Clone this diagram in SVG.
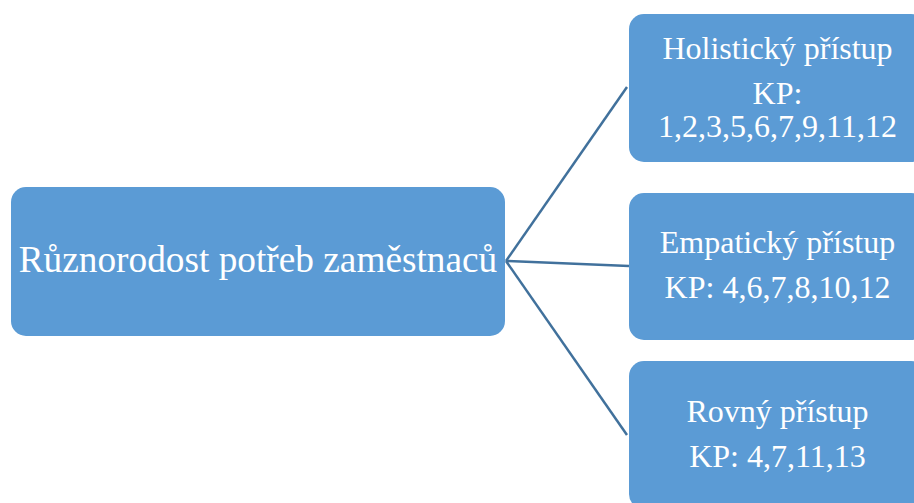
<svg xmlns="http://www.w3.org/2000/svg" width="914" height="503" viewBox="0 0 914 503">
<style>
.box{fill:#5B9BD5;}
.t{font-family:"Liberation Serif","Times New Roman",serif;fill:#FFFFFF;text-anchor:middle;}
.c{stroke:#41719C;stroke-width:2.5;fill:none;}
</style>
<rect width="914" height="503" fill="#FFFFFF"/>
<g id="connectors">
<line class="c" x1="506" y1="261" x2="627" y2="87"/>
<line class="c" x1="506" y1="261" x2="629" y2="266"/>
<line class="c" x1="506" y1="261" x2="627" y2="435"/>
</g>
<g id="root">
<rect class="box" x="11" y="187" width="494" height="149" rx="15"/>
<text class="t" x="258" y="272" font-size="37.3">Různorodost potřeb zaměstnaců</text>
</g>
<g id="holisticky">
<rect class="box" x="629" y="14" width="297" height="148" rx="15"/>
<text class="t" x="777.5" y="59" font-size="32">Holistický přístup</text>
<text class="t" x="777.5" y="104" font-size="32">KP:</text>
<text class="t" x="777.5" y="137" font-size="32">1,2,3,5,6,7,9,11,12</text>
</g>
<g id="empaticky">
<rect class="box" x="629" y="193" width="297" height="147" rx="15"/>
<text class="t" x="777.5" y="252.5" font-size="32">Empatický přístup</text>
<text class="t" x="777.5" y="298" font-size="32">KP: 4,6,7,8,10,12</text>
</g>
<g id="rovny">
<rect class="box" x="629" y="361" width="297" height="148" rx="15"/>
<text class="t" x="777.5" y="421.5" font-size="32">Rovný přístup</text>
<text class="t" x="777.5" y="467" font-size="32">KP: 4,7,11,13</text>
</g>
</svg>
